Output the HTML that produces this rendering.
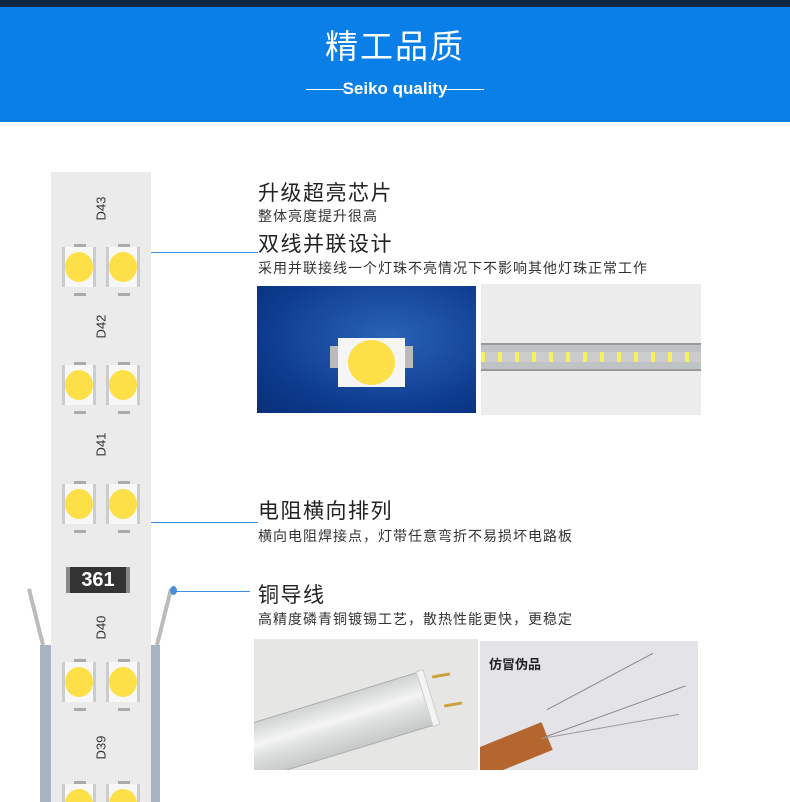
<!DOCTYPE html>
<html><head><meta charset="utf-8">
<style>
*{margin:0;padding:0;box-sizing:border-box}
html,body{width:790px;height:802px;overflow:hidden}
body{background:#fff;position:relative;font-family:"Liberation Sans","Noto Sans CJK SC",sans-serif}
.abs{position:absolute}
.t{position:absolute;left:258px;font-size:21px;letter-spacing:1.5px;color:#222;white-space:nowrap;line-height:1}
.s{position:absolute;left:258px;font-size:14px;letter-spacing:1px;color:#333;white-space:nowrap;line-height:1}
.led{position:absolute;width:34px;height:40px;background:#f7f7f7;border-left:3px solid #ccc;border-right:3px solid #ccc}
.led::before{content:"";position:absolute;left:0px;top:5px;width:28px;height:30px;border-radius:50%;background:#fde047}
.led::after{content:"";position:absolute;left:9px;top:-3px;width:12px;height:46px;border-top:3px solid #aaa;border-bottom:3px solid #aaa}
.d{position:absolute;left:86px;font-size:13px;color:#333;transform:rotate(-90deg);width:30px;text-align:center}
.ln{position:absolute;height:1px;background:#3a8fe0}
</style></head><body>
<div class="abs" style="left:0;top:0;width:790px;height:8px;background:#0d2745"></div>
<div class="abs" style="left:0;top:7px;width:790px;height:115px;background:#0b7fe8"></div>
<div class="abs" style="left:0;top:30px;width:790px;text-align:center;color:#fff;font-size:33px;letter-spacing:2px;line-height:1">精工品质</div>
<div class="abs" style="left:306px;top:89px;width:38px;height:1px;background:#fff"></div>
<div class="abs" style="left:446px;top:89px;width:38px;height:1px;background:#fff"></div>
<div class="abs" style="left:340px;top:80px;width:110px;text-align:center;color:#fff;font-size:17px;font-weight:bold;line-height:1;white-space:nowrap">Seiko quality</div>

<!-- strip -->
<div class="abs" style="left:40px;top:645px;width:120px;height:160px;background:#a8b2c0"></div>
<div class="abs" style="left:51px;top:172px;width:100px;height:640px;background:#ebebeb"></div>
<div class="abs" style="left:34px;top:588px;width:4px;height:58px;background:#bbb;transform:rotate(-14deg)"></div>
<div class="abs" style="left:162px;top:588px;width:4px;height:58px;background:#bbb;transform:rotate(14deg)"></div>
<div class="abs" style="left:170px;top:586px;width:7px;height:9px;border-radius:50%;background:#4a8fd8"></div>

<div class="d" style="top:201px">D43</div>
<div class="d" style="top:319px">D42</div>
<div class="d" style="top:437px">D41</div>
<div class="d" style="top:620px">D40</div>
<div class="d" style="top:740px">D39</div>

<div class="led" style="left:62px;top:247px"></div><div class="led" style="left:106px;top:247px"></div>
<div class="led" style="left:62px;top:365px"></div><div class="led" style="left:106px;top:365px"></div>
<div class="led" style="left:62px;top:484px"></div><div class="led" style="left:106px;top:484px"></div>
<div class="led" style="left:62px;top:662px"></div><div class="led" style="left:106px;top:662px"></div>
<div class="led" style="left:62px;top:784px"></div><div class="led" style="left:106px;top:784px"></div>

<div class="abs" style="left:66px;top:567px;width:64px;height:26px;background:#333;border-left:4px solid #888;border-right:4px solid #888;color:#fff;font-weight:bold;font-size:20px;text-align:center;line-height:26px">361</div>

<div class="ln" style="left:151px;top:252px;width:107px"></div>
<div class="ln" style="left:151px;top:522px;width:107px"></div>
<div class="ln" style="left:176px;top:591px;width:74px"></div>

<div class="t" style="top:183px">升级超亮芯片</div>
<div class="s" style="top:209px">整体亮度提升很高</div>
<div class="t" style="top:234px">双线并联设计</div>
<div class="s" style="top:261px">采用并联接线一个灯珠不亮情况下不影响其他灯珠正常工作</div>
<div class="t" style="top:501px">电阻横向排列</div>
<div class="s" style="top:529px">横向电阻焊接点，灯带任意弯折不易损坏电路板</div>
<div class="t" style="top:585px">铜导线</div>
<div class="s" style="top:612px">高精度磷青铜镀锡工艺，散热性能更快，更稳定</div>

<!-- image 1 -->
<div class="abs" style="left:257px;top:286px;width:219px;height:127px;background:radial-gradient(ellipse at 60% 40%,#2a63b8,#0c3a8c 70%,#0a2f78)">
  <div class="abs" style="left:73px;top:60px;width:8px;height:22px;background:#bbb"></div>
  <div class="abs" style="left:148px;top:60px;width:8px;height:22px;background:#bbb"></div>
  <div class="abs" style="left:81px;top:52px;width:67px;height:49px;background:#f5f5f5"></div>
  <div class="abs" style="left:91px;top:54px;width:47px;height:45px;border-radius:50%;background:#fde047"></div>
</div>
<!-- image 2 -->
<div class="abs" style="left:481px;top:284px;width:220px;height:131px;background:#ececec">
  <div class="abs" style="left:0;top:59px;width:220px;height:28px;background:#bfc3c6;border-top:2px solid #999;border-bottom:2px solid #999"></div>
  <div class="abs" style="left:0;top:68px;width:220px;height:10px;background:repeating-linear-gradient(90deg,#f5f060 0 4px,#ccc 4px 17px)"></div>
</div>
<!-- image 3 -->
<div class="abs" style="left:254px;top:639px;width:224px;height:131px;background:#e6e6e4;overflow:hidden">
  <div class="abs" style="left:-100px;top:72px;width:280px;height:56px;background:linear-gradient(#cfd3d1,#f4f5f4 40%,#dfe2e0 60%,#c5c9c7);transform:rotate(-17deg);border:1px solid #aaa"></div>
  <div class="abs" style="left:170px;top:30px;width:8px;height:58px;background:#f4f4f4;border:1px solid #ccc;transform:rotate(-17deg)"></div>
  <div class="abs" style="left:178px;top:35px;width:18px;height:3px;background:#c9a23a;transform:rotate(-10deg)"></div>
  <div class="abs" style="left:190px;top:64px;width:18px;height:3px;background:#c9a23a;transform:rotate(-10deg)"></div>
</div>
<!-- image 4 -->
<div class="abs" style="left:480px;top:641px;width:218px;height:129px;background:#e4e4e8;overflow:hidden">
  <div class="abs" style="left:9px;top:13px;font-size:13px;font-weight:bold;color:#222">仿冒伪品</div>
  <div class="abs" style="left:-10px;top:95px;width:80px;height:30px;background:#b5652e;transform:rotate(-22deg)"></div>
  <div class="abs" style="left:60px;top:40px;width:120px;height:1px;background:#888;transform:rotate(-28deg)"></div>
  <div class="abs" style="left:60px;top:70px;width:150px;height:1px;background:#888;transform:rotate(-20deg)"></div>
  <div class="abs" style="left:60px;top:85px;width:140px;height:1px;background:#999;transform:rotate(-10deg)"></div>
</div>
</body></html>
